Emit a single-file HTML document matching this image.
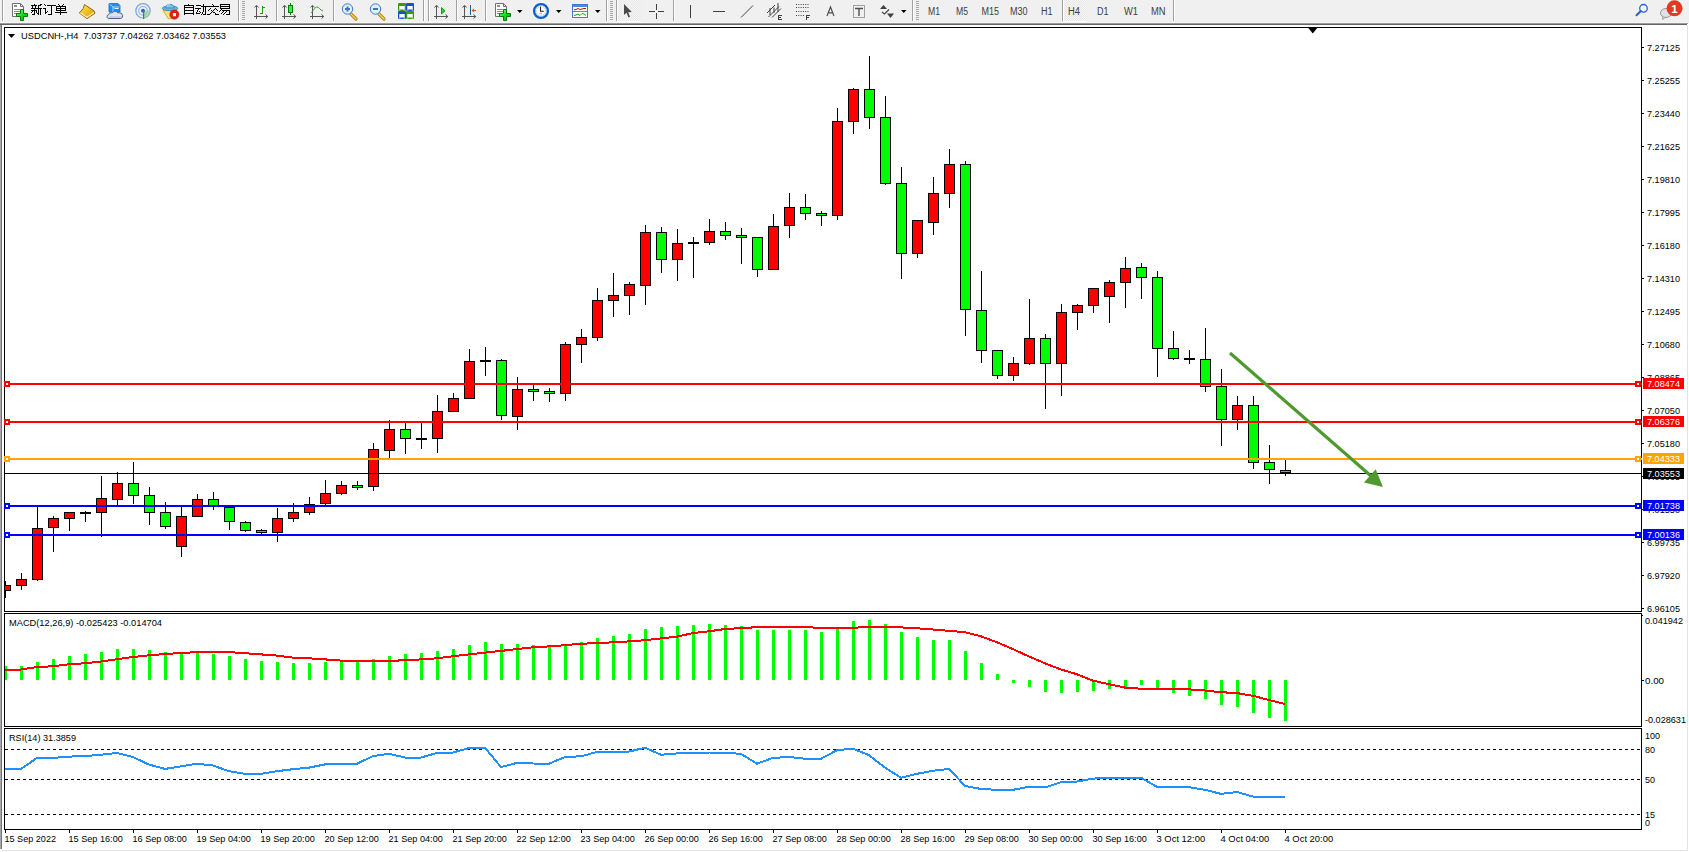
<!DOCTYPE html><html><head><meta charset="utf-8"><style>html,body{margin:0;padding:0;background:#fff;}body{width:1689px;height:852px;overflow:hidden;position:relative;}svg{position:absolute;left:0;top:0;display:block;}text{font-family:"Liberation Sans",sans-serif;}</style></head><body>
<svg width="1689" height="852" viewBox="0 0 1689 852">
<rect x="0" y="0" width="1689" height="852" fill="#ffffff"/>
<g shape-rendering="crispEdges">
<rect x="0" y="0" width="1689" height="23" fill="#f0f0f0"/>
<rect x="0" y="22" width="1688" height="1" fill="#f6f6f6"/>
<rect x="0" y="23" width="1688" height="1" fill="#9a9a9a"/>
<rect x="0" y="24" width="1687" height="1" fill="#646464"/>
<rect x="0" y="25" width="1" height="824" fill="#a8a8a8"/>
<rect x="1" y="25" width="1" height="824" fill="#747474"/>
<rect x="1687" y="25" width="1" height="826" fill="#e3e3e3"/>
<rect x="2" y="850" width="1686" height="1" fill="#e3e3e3"/>
</g>
<defs><pattern id="chk" width="2" height="2" patternUnits="userSpaceOnUse"><rect width="2" height="2" fill="#f7f7f7"/><rect width="1" height="1" fill="#e6e6e6"/><rect x="1" y="1" width="1" height="1" fill="#e6e6e6"/></pattern><linearGradient id="gplus" x1="0" y1="0" x2="1" y2="1"><stop offset="0" stop-color="#90ff90"/><stop offset="0.5" stop-color="#10e020"/><stop offset="1" stop-color="#00a000"/></linearGradient><linearGradient id="gbook" x1="0" y1="0" x2="1" y2="1"><stop offset="0" stop-color="#fff080"/><stop offset="0.5" stop-color="#f0c020"/><stop offset="1" stop-color="#d09010"/></linearGradient><radialGradient id="gclock" cx="0.5" cy="0.5" r="0.5"><stop offset="0.6" stop-color="#ffffff"/><stop offset="1" stop-color="#e0e8f0"/></radialGradient></defs>
<g shape-rendering="crispEdges">
<rect x="2" y="0" width="1" height="21" fill="#a0a0a0"/>
<rect x="3" y="0" width="1" height="21" fill="#ffffff"/>
</g>
<path d="M12.5 3.5 H20.5 L23.5 6.5 V16.5 H12.5 Z" fill="#ffffff" stroke="#707070" stroke-width="1"/>
<path d="M20.5 3.5 V6.5 H23.5" fill="none" stroke="#707070" stroke-width="1"/>
<rect x="14" y="5" width="3" height="2" fill="#909090"/>
<rect x="14" y="9" width="6" height="1" fill="#8a8a8a"/>
<rect x="14" y="11" width="6" height="1" fill="#8a8a8a"/>
<rect x="14" y="13" width="6" height="1" fill="#8a8a8a"/>
<path d="M20.5 9.5 H23.5 V13.5 H27.5 V16.5 H23.5 V20.5 H20.5 V16.5 H16.5 V13.5 H20.5 Z" fill="url(#gplus)" stroke="#008000" stroke-width="1"/>
<g fill="#000" shape-rendering="crispEdges"><rect x="34" y="4" width="1" height="1"/><rect x="31" y="5" width="6" height="1"/><rect x="32" y="6" width="1" height="1"/><rect x="35" y="6" width="1" height="1"/><rect x="32" y="7" width="1" height="1"/><rect x="35" y="7" width="1" height="1"/><rect x="31" y="8" width="7" height="1"/><rect x="31" y="10" width="6" height="1"/><rect x="34" y="9" width="1" height="6"/><rect x="33" y="14" width="1" height="1"/><rect x="32" y="14" width="1" height="1"/><rect x="32" y="11" width="1" height="1"/><rect x="31" y="12" width="1" height="1"/><rect x="36" y="11" width="1" height="1"/><rect x="36" y="12" width="1" height="1"/><rect x="37" y="13" width="1" height="1"/><rect x="41" y="4" width="1" height="1"/><rect x="40" y="4" width="1" height="1"/><rect x="38" y="5" width="3" height="1"/><rect x="38" y="6" width="1" height="9"/><rect x="39" y="8" width="3" height="1"/><rect x="40" y="9" width="1" height="6"/><rect x="44" y="4" width="1" height="1"/><rect x="45" y="5" width="1" height="1"/><rect x="43" y="8" width="3" height="1"/><rect x="45" y="9" width="1" height="5"/><rect x="46" y="12" width="1" height="1"/><rect x="47" y="11" width="1" height="1"/><rect x="47" y="5" width="9" height="1"/><rect x="51" y="6" width="1" height="9"/><rect x="48" y="14" width="3" height="1"/><rect x="58" y="4" width="1" height="1"/><rect x="59" y="5" width="1" height="1"/><rect x="63" y="4" width="1" height="1"/><rect x="62" y="5" width="1" height="1"/><rect x="56" y="6" width="1" height="5"/><rect x="65" y="6" width="1" height="5"/><rect x="56" y="6" width="10" height="1"/><rect x="56" y="8" width="10" height="1"/><rect x="56" y="10" width="10" height="1"/><rect x="60" y="7" width="1" height="8"/><rect x="55" y="12" width="12" height="1"/><rect x="188" y="4" width="1" height="1"/><rect x="184" y="5" width="1" height="10"/><rect x="193" y="5" width="1" height="10"/><rect x="184" y="5" width="10" height="1"/><rect x="184" y="7" width="10" height="1"/><rect x="184" y="10" width="10" height="1"/><rect x="184" y="13" width="10" height="1"/><rect x="196" y="5" width="5" height="1"/><rect x="195" y="8" width="6" height="1"/><rect x="198" y="9" width="1" height="1"/><rect x="197" y="10" width="1" height="1"/><rect x="197" y="11" width="1" height="1"/><rect x="196" y="12" width="1" height="1"/><rect x="196" y="13" width="4" height="1"/><rect x="199" y="11" width="1" height="1"/><rect x="200" y="12" width="1" height="1"/><rect x="201" y="6" width="6" height="1"/><rect x="203" y="4" width="1" height="8"/><rect x="202" y="12" width="1" height="1"/><rect x="202" y="13" width="1" height="1"/><rect x="201" y="14" width="1" height="1"/><rect x="205" y="6" width="1" height="8"/><rect x="203" y="14" width="3" height="1"/><rect x="212" y="4" width="1" height="1"/><rect x="213" y="5" width="1" height="1"/><rect x="207" y="6" width="12" height="1"/><rect x="210" y="8" width="1" height="1"/><rect x="209" y="9" width="1" height="1"/><rect x="208" y="10" width="1" height="1"/><rect x="215" y="8" width="1" height="1"/><rect x="216" y="9" width="1" height="1"/><rect x="217" y="10" width="1" height="1"/><rect x="214" y="9" width="1" height="1"/><rect x="213" y="10" width="1" height="1"/><rect x="212" y="11" width="1" height="1"/><rect x="211" y="12" width="1" height="1"/><rect x="210" y="13" width="1" height="1"/><rect x="207" y="14" width="3" height="1"/><rect x="211" y="10" width="1" height="1"/><rect x="212" y="11" width="1" height="1"/><rect x="213" y="12" width="1" height="1"/><rect x="215" y="13" width="1" height="1"/><rect x="215" y="14" width="4" height="1"/><rect x="214" y="12" width="1" height="1"/><rect x="220" y="4" width="1" height="5"/><rect x="229" y="4" width="1" height="5"/><rect x="220" y="4" width="10" height="1"/><rect x="220" y="6" width="10" height="1"/><rect x="220" y="8" width="10" height="1"/><rect x="221" y="9" width="1" height="1"/><rect x="220" y="10" width="1" height="1"/><rect x="219" y="11" width="1" height="1"/><rect x="222" y="10" width="8" height="1"/><rect x="229" y="11" width="1" height="3"/><rect x="226" y="14" width="4" height="1"/><rect x="223" y="11" width="1" height="1"/><rect x="222" y="12" width="1" height="1"/><rect x="221" y="13" width="1" height="1"/><rect x="226" y="11" width="1" height="1"/><rect x="225" y="12" width="1" height="1"/><rect x="224" y="13" width="1" height="1"/><rect x="223" y="14" width="1" height="1"/></g>
<path d="M84.5 4.5 L94 10.8 L95 13.2 L87 18.6 L79.3 13 L83.2 8.6 Z" fill="url(#gbook)" stroke="#9a6410" stroke-width="1"/>
<path d="M80.5 13 L87 17.3 L93.8 12.5" fill="none" stroke="#fff0b0" stroke-width="1.1"/>
<path d="M83.3 9 L90.5 14" fill="none" stroke="#e8b830" stroke-width="0.8"/>
<path d="M109 3.5 H118 L120 5.5 V12 H109 Z" fill="#1a90f0" stroke="#1070d0" stroke-width="0.8"/>
<path d="M109.5 4 L113 7 V12 M113 7 H119.5" fill="none" stroke="#c8ecff" stroke-width="0.8"/>
<rect x="114.5" y="8" width="4" height="1" fill="#ffffff"/>
<path d="M109 18.5 C106.5 18.5 106.2 15 108.8 14.6 C109 13 110.8 12.3 112.2 13 C113 11 116.8 10.6 117.8 13 C119.8 12.2 122.6 13.4 122.6 15.8 C122.6 17.8 121.3 18.5 120.2 18.5 Z" fill="#dde2ec" stroke="#4a5c8c" stroke-width="1"/>
<path d="M109 17 H121" stroke="#b8c2d8" stroke-width="1.2" fill="none"/>
<circle cx="143" cy="10.8" r="7.2" fill="none" stroke="#5a88d8" stroke-width="1.2" opacity="0.75"/>
<circle cx="143" cy="10.8" r="4.3" fill="none" stroke="#6a98e0" stroke-width="1.1" opacity="0.7"/>
<path d="M143.5 11 V18.5 A7.5 7.5 0 0 0 150.5 10.5 L143.5 11 Z" fill="#9ad090" opacity="0.7"/>
<circle cx="143" cy="10.8" r="2" fill="#2a60d0"/>
<rect x="143" y="11" width="1.2" height="8" fill="#20a020"/>
<path d="M162.8 10 L177.2 9.5 L172.8 18.6 H168.2 Z" fill="#f6e46a" stroke="#c8a020" stroke-width="0.8"/>
<ellipse cx="170" cy="8.3" rx="7.7" ry="2.4" fill="#6cb6e6" stroke="#3a8ab4" stroke-width="0.9"/>
<path d="M165.5 8 C165.3 3.2 174.5 3.2 174.3 8 Z" fill="#7cc2ee" stroke="#3a8ab4" stroke-width="0.9"/>
<path d="M167 6.5 C167.5 5 169 4.5 170 4.8" stroke="#c8ecff" stroke-width="0.9" fill="none"/>
<circle cx="174.4" cy="14.6" r="4.6" fill="#e41e0e" stroke="#b01808" stroke-width="0.6"/>
<rect x="172.9" y="13.1" width="3.1" height="3.1" fill="#ffffff"/>
<g shape-rendering="crispEdges">
<rect x="238" y="0" width="1" height="21" fill="#a0a0a0"/>
<rect x="239" y="0" width="1" height="21" fill="#ffffff"/>
<rect x="242" y="1" width="3" height="1" fill="#a8a8a8"/>
<rect x="242" y="3" width="3" height="1" fill="#a8a8a8"/>
<rect x="242" y="5" width="3" height="1" fill="#a8a8a8"/>
<rect x="242" y="7" width="3" height="1" fill="#a8a8a8"/>
<rect x="242" y="9" width="3" height="1" fill="#a8a8a8"/>
<rect x="242" y="11" width="3" height="1" fill="#a8a8a8"/>
<rect x="242" y="13" width="3" height="1" fill="#a8a8a8"/>
<rect x="242" y="15" width="3" height="1" fill="#a8a8a8"/>
<rect x="242" y="17" width="3" height="1" fill="#a8a8a8"/>
<rect x="242" y="19" width="3" height="1" fill="#a8a8a8"/>
</g>
<path d="M256.5 5.5 V19" stroke="#555" stroke-width="1" fill="none" shape-rendering="crispEdges"/>
<path d="M254 16.5 H267.5" stroke="#555" stroke-width="1" fill="none" shape-rendering="crispEdges"/>
<path d="M254.5 7.5 L256.5 5.3 L258.5 7.5" stroke="#555" stroke-width="1" fill="none"/>
<path d="M265.5 14.5 L267.8 16.5 L265.5 18.5" stroke="#555" stroke-width="1" fill="none"/>
<path d="M260 13.5 H262.5 V6 M262.5 7.5 H265" stroke="#10a010" stroke-width="1.2" fill="none" shape-rendering="crispEdges"/>
<g shape-rendering="crispEdges">
<rect x="276" y="0" width="1" height="21" fill="#a0a0a0"/>
<rect x="277" y="0" width="1" height="21" fill="#ffffff"/>
<rect x="278" y="0" width="23" height="21" fill="url(#chk)"/>
<rect x="278" y="21" width="23" height="1" fill="#ffffff"/>
</g>
<path d="M284.5 5.5 V19" stroke="#555" stroke-width="1" fill="none" shape-rendering="crispEdges"/>
<path d="M282 16.5 H295.5" stroke="#555" stroke-width="1" fill="none" shape-rendering="crispEdges"/>
<path d="M282.5 7.5 L284.5 5.3 L286.5 7.5" stroke="#555" stroke-width="1" fill="none"/>
<path d="M293.5 14.5 L295.8 16.5 L293.5 18.5" stroke="#555" stroke-width="1" fill="none"/>
<rect x="290" y="3" width="1" height="12" fill="#008000" shape-rendering="crispEdges"/>
<rect x="288.5" y="5.5" width="4" height="7" fill="#40e060" stroke="#008000" stroke-width="1" shape-rendering="crispEdges"/>
<path d="M312.5 5.5 V19" stroke="#555" stroke-width="1" fill="none" shape-rendering="crispEdges"/>
<path d="M310 16.5 H323.5" stroke="#555" stroke-width="1" fill="none" shape-rendering="crispEdges"/>
<path d="M310.5 7.5 L312.5 5.3 L314.5 7.5" stroke="#555" stroke-width="1" fill="none"/>
<path d="M321.5 14.5 L323.8 16.5 L321.5 18.5" stroke="#555" stroke-width="1" fill="none"/>
<path d="M311 13 C313 11 315 7 317 7 C319 7 320 10 323 11" stroke="#30a030" stroke-width="1" fill="none"/>
<g shape-rendering="crispEdges">
<rect x="333" y="0" width="1" height="21" fill="#a0a0a0"/>
<rect x="334" y="0" width="1" height="21" fill="#ffffff"/>
</g>
<path d="M351 14 L356 19" stroke="#b08010" stroke-width="3.2" stroke-linecap="round" fill="none"/>
<path d="M351 14 L356 19" stroke="#f0d050" stroke-width="1.6" stroke-linecap="round" fill="none"/>
<circle cx="347.5" cy="9" r="5.2" fill="#dff0fa" stroke="#3a7ad0" stroke-width="1"/>
<rect x="345" y="8" width="5" height="2" fill="#3a7ab0"/>
<rect x="346.5" y="6.5" width="2" height="5" fill="#3a7ab0"/>
<path d="M379 14 L384 19" stroke="#b08010" stroke-width="3.2" stroke-linecap="round" fill="none"/>
<path d="M379 14 L384 19" stroke="#f0d050" stroke-width="1.6" stroke-linecap="round" fill="none"/>
<circle cx="375.5" cy="9" r="5.2" fill="#dff0fa" stroke="#3a7ad0" stroke-width="1"/>
<rect x="373" y="8" width="5" height="2" fill="#3a7ab0"/>
<rect x="398" y="3" width="8" height="8" rx="1" fill="#3a9a10"/>
<rect x="399.3" y="6" width="5.4" height="3.5" fill="#ffffff"/>
<rect x="399.3" y="9.5" width="1" height="1" fill="#ffffff"/><rect x="403.7" y="9.5" width="1" height="1" fill="#ffffff"/>
<rect x="406" y="3" width="8" height="8" rx="1" fill="#1a50d0"/>
<rect x="407.3" y="6" width="5.4" height="3.5" fill="#ffffff"/>
<rect x="407.3" y="9.5" width="1" height="1" fill="#ffffff"/><rect x="411.7" y="9.5" width="1" height="1" fill="#ffffff"/>
<rect x="398" y="11" width="8" height="8" rx="1" fill="#1a50d0"/>
<rect x="399.3" y="14" width="5.4" height="3.5" fill="#ffffff"/>
<rect x="399.3" y="17.5" width="1" height="1" fill="#ffffff"/><rect x="403.7" y="17.5" width="1" height="1" fill="#ffffff"/>
<rect x="406" y="11" width="8" height="8" rx="1" fill="#3a9a10"/>
<rect x="407.3" y="14" width="5.4" height="3.5" fill="#ffffff"/>
<rect x="407.3" y="17.5" width="1" height="1" fill="#ffffff"/><rect x="411.7" y="17.5" width="1" height="1" fill="#ffffff"/>
<g shape-rendering="crispEdges">
<rect x="423" y="0" width="1" height="21" fill="#a0a0a0"/>
<rect x="424" y="0" width="1" height="21" fill="#ffffff"/>
<rect x="428" y="0" width="1" height="21" fill="#a0a0a0"/>
<rect x="429" y="0" width="1" height="21" fill="#ffffff"/>
<rect x="430" y="0" width="23" height="21" fill="url(#chk)"/>
<rect x="430" y="21" width="23" height="1" fill="#ffffff"/>
<rect x="456" y="0" width="1" height="21" fill="#a0a0a0"/>
<rect x="457" y="0" width="1" height="21" fill="#ffffff"/>
<rect x="458" y="0" width="24" height="21" fill="url(#chk)"/>
<rect x="458" y="21" width="24" height="1" fill="#ffffff"/>
<rect x="485" y="0" width="1" height="21" fill="#a0a0a0"/>
<rect x="486" y="0" width="1" height="21" fill="#ffffff"/>
</g>
<path d="M436.5 5.5 V19" stroke="#555" stroke-width="1" fill="none" shape-rendering="crispEdges"/>
<path d="M434 16.5 H447.5" stroke="#555" stroke-width="1" fill="none" shape-rendering="crispEdges"/>
<path d="M434.5 7.5 L436.5 5.3 L438.5 7.5" stroke="#555" stroke-width="1" fill="none"/>
<path d="M445.5 14.5 L447.8 16.5 L445.5 18.5" stroke="#555" stroke-width="1" fill="none"/>
<path d="M441.5 7.5 L445 10.8 L441.5 14 Z" fill="#40c040" stroke="#10a010" stroke-width="1"/>
<path d="M464.5 5.5 V19" stroke="#555" stroke-width="1" fill="none" shape-rendering="crispEdges"/>
<path d="M462 16.5 H475.5" stroke="#555" stroke-width="1" fill="none" shape-rendering="crispEdges"/>
<path d="M462.5 7.5 L464.5 5.3 L466.5 7.5" stroke="#555" stroke-width="1" fill="none"/>
<path d="M473.5 14.5 L475.8 16.5 L473.5 18.5" stroke="#555" stroke-width="1" fill="none"/>
<rect x="470" y="5" width="1" height="10" fill="#1060a0"/>
<path d="M471.5 10.5 L474 8.5 V10 H476 V11 H474 V12.5 Z" fill="#e05010"/>
<path d="M495.5 3.5 H503.5 L506.5 6.5 V16.5 H495.5 Z" fill="#ffffff" stroke="#707070" stroke-width="1"/>
<path d="M503.5 3.5 V6.5 H506.5" fill="none" stroke="#707070" stroke-width="1"/>
<rect x="497" y="5" width="3" height="2" fill="#909090"/>
<rect x="497" y="9" width="6" height="1" fill="#8a8a8a"/>
<rect x="497" y="11" width="6" height="1" fill="#8a8a8a"/>
<rect x="497" y="13" width="6" height="1" fill="#8a8a8a"/>
<path d="M503.5 9.5 H506.5 V13.5 H510.5 V16.5 H506.5 V20.5 H503.5 V16.5 H499.5 V13.5 H503.5 Z" fill="url(#gplus)" stroke="#008000" stroke-width="1"/>
<path d="M517 10 H522.5 L519.75 13 Z" fill="#000"/>
<circle cx="541" cy="11" r="6.9" fill="#ffffff" stroke="#0a5cc8" stroke-width="2.3"/>
<circle cx="541" cy="11" r="5.6" fill="none" stroke="#7ab8f0" stroke-width="0.6"/>
<rect x="540.60" y="6.00" width="0.8" height="0.8" fill="#909090"/>
<rect x="542.90" y="6.62" width="0.8" height="0.8" fill="#909090"/>
<rect x="544.58" y="8.30" width="0.8" height="0.8" fill="#909090"/>
<rect x="545.20" y="10.60" width="0.8" height="0.8" fill="#909090"/>
<rect x="544.58" y="12.90" width="0.8" height="0.8" fill="#909090"/>
<rect x="542.90" y="14.58" width="0.8" height="0.8" fill="#909090"/>
<rect x="540.60" y="15.20" width="0.8" height="0.8" fill="#909090"/>
<rect x="538.30" y="14.58" width="0.8" height="0.8" fill="#909090"/>
<rect x="536.62" y="12.90" width="0.8" height="0.8" fill="#909090"/>
<rect x="536.00" y="10.60" width="0.8" height="0.8" fill="#909090"/>
<rect x="536.62" y="8.30" width="0.8" height="0.8" fill="#909090"/>
<rect x="538.30" y="6.62" width="0.8" height="0.8" fill="#909090"/>
<path d="M540.5 6.8 V11.3 H543.8" stroke="#202020" stroke-width="1.1" fill="none"/>
<rect x="539.5" y="13.3" width="2.5" height="0.8" fill="#60a0e0"/>
<path d="M556 10 H561.5 L558.75 13 Z" fill="#000"/>
<rect x="572.5" y="4.5" width="15" height="13" fill="#ffffff" stroke="#3a7ad0" stroke-width="1"/>
<rect x="573" y="5" width="14" height="2" fill="#4a8ae0"/>
<rect x="573" y="11" width="14" height="1" fill="#4a8ae0"/>
<path d="M574 10 L576 9.5 L578 8.5 L580 9.5 L582 9 L584 8.5 L586 8.5" stroke="#a02000" stroke-width="1" fill="none"/>
<path d="M574 15.5 L576 15 L578 14 L580 15.5 L582 13.5 L584 14 L586 15.5" stroke="#10a010" stroke-width="1" fill="none"/>
<path d="M595 10 H600.5 L597.75 13 Z" fill="#000"/>
<g shape-rendering="crispEdges">
<rect x="606" y="0" width="1" height="21" fill="#a0a0a0"/>
<rect x="607" y="0" width="1" height="21" fill="#ffffff"/>
<rect x="610" y="1" width="3" height="1" fill="#a8a8a8"/>
<rect x="610" y="3" width="3" height="1" fill="#a8a8a8"/>
<rect x="610" y="5" width="3" height="1" fill="#a8a8a8"/>
<rect x="610" y="7" width="3" height="1" fill="#a8a8a8"/>
<rect x="610" y="9" width="3" height="1" fill="#a8a8a8"/>
<rect x="610" y="11" width="3" height="1" fill="#a8a8a8"/>
<rect x="610" y="13" width="3" height="1" fill="#a8a8a8"/>
<rect x="610" y="15" width="3" height="1" fill="#a8a8a8"/>
<rect x="610" y="17" width="3" height="1" fill="#a8a8a8"/>
<rect x="610" y="19" width="3" height="1" fill="#a8a8a8"/>
<rect x="616" y="0" width="1" height="21" fill="#a0a0a0"/>
<rect x="617" y="0" width="1" height="21" fill="#ffffff"/>
<rect x="618" y="0" width="23" height="21" fill="url(#chk)"/>
<rect x="618" y="21" width="23" height="1" fill="#ffffff"/>
</g>
<path d="M624 4 V15 L626.5 12.8 L628.5 17.5 L630 16.8 L628.2 12.2 L631.8 12 Z" fill="#4a4a4a"/>
<path d="M656.5 4 V10 M656.5 13 V19 M649 11.5 H655 M658 11.5 H664" stroke="#404040" stroke-width="1.1" fill="none" shape-rendering="crispEdges"/>
<g shape-rendering="crispEdges">
<rect x="673" y="0" width="1" height="21" fill="#a0a0a0"/>
<rect x="674" y="0" width="1" height="21" fill="#ffffff"/>
</g>
<path d="M690.5 5 V18" stroke="#404040" stroke-width="1.1" fill="none" shape-rendering="crispEdges"/>
<path d="M713 11.5 H725" stroke="#404040" stroke-width="1.1" fill="none" shape-rendering="crispEdges"/>
<path d="M741 17.5 L753 5.5" stroke="#404040" stroke-width="1" fill="none"/>
<path d="M767 13 L775 5 M768.5 17 L779 6.5 M772 17.5 L781 8.5" stroke="#404040" stroke-width="1" fill="none"/>
<path d="M770 8 V15 M774 7.5 V13 M778 3 V12" stroke="#404040" stroke-width="1" fill="none"/>
<path d="M782 15 H778.5 V19.5 H782 M778.5 17.2 H781" stroke="#404040" stroke-width="1" fill="none" shape-rendering="crispEdges"/>
<path d="M796 4.5 H809 M796 7.5 H809 M796 11.5 H809 M796 15.5 H804" stroke="#404040" stroke-width="1" stroke-dasharray="1,1.3" fill="none"/>
<path d="M810 15.5 H806.5 V20 M806.5 17.5 H809" stroke="#404040" stroke-width="1" fill="none" shape-rendering="crispEdges"/>
<path d="M827 16 L830.5 7 L834 16 M828.3 12.8 H832.7" stroke="#505050" stroke-width="1.2" fill="none"/>
<rect x="853.5" y="5.5" width="11" height="12" fill="none" stroke="#505050" stroke-width="1" stroke-dasharray="1,1"/>
<path d="M855 8.5 H863 M859 8.5 V16" stroke="#505050" stroke-width="1.4" fill="none"/>
<path d="M880 9 L883.5 5 L887 9 Z" fill="#404040"/>
<path d="M882 12 L884.5 14 L889 9.5" stroke="#404040" stroke-width="1.1" fill="none"/>
<path d="M887 13.5 H894 L890.5 18 Z" fill="#404040"/>
<path d="M901 10 H906.5 L903.75 13 Z" fill="#000"/>
<g shape-rendering="crispEdges">
<rect x="912" y="0" width="1" height="21" fill="#a0a0a0"/>
<rect x="913" y="0" width="1" height="21" fill="#ffffff"/>
<rect x="916" y="1" width="3" height="1" fill="#a8a8a8"/>
<rect x="916" y="3" width="3" height="1" fill="#a8a8a8"/>
<rect x="916" y="5" width="3" height="1" fill="#a8a8a8"/>
<rect x="916" y="7" width="3" height="1" fill="#a8a8a8"/>
<rect x="916" y="9" width="3" height="1" fill="#a8a8a8"/>
<rect x="916" y="11" width="3" height="1" fill="#a8a8a8"/>
<rect x="916" y="13" width="3" height="1" fill="#a8a8a8"/>
<rect x="916" y="15" width="3" height="1" fill="#a8a8a8"/>
<rect x="916" y="17" width="3" height="1" fill="#a8a8a8"/>
<rect x="916" y="19" width="3" height="1" fill="#a8a8a8"/>
<rect x="1062" y="0" width="1" height="21" fill="#a0a0a0"/>
<rect x="1063" y="0" width="1" height="21" fill="#ffffff"/>
<rect x="1064" y="0" width="23" height="21" fill="url(#chk)"/>
<rect x="1064" y="21" width="23" height="1" fill="#ffffff"/>
<rect x="1173" y="0" width="1" height="21" fill="#a0a0a0"/>
<rect x="1174" y="0" width="1" height="21" fill="#ffffff"/>
</g>
<text x="928" y="15.4" font-size="10" fill="#404040" textLength="12" lengthAdjust="spacingAndGlyphs">M1</text>
<text x="956" y="15.4" font-size="10" fill="#404040" textLength="12" lengthAdjust="spacingAndGlyphs">M5</text>
<text x="981.5" y="15.4" font-size="10" fill="#404040" textLength="17.5" lengthAdjust="spacingAndGlyphs">M15</text>
<text x="1010" y="15.4" font-size="10" fill="#404040" textLength="17.5" lengthAdjust="spacingAndGlyphs">M30</text>
<text x="1041" y="15.4" font-size="10" fill="#404040" textLength="11.5" lengthAdjust="spacingAndGlyphs">H1</text>
<text x="1068" y="15.4" font-size="10" fill="#404040" textLength="12" lengthAdjust="spacingAndGlyphs">H4</text>
<text x="1097" y="15.4" font-size="10" fill="#404040" textLength="11.5" lengthAdjust="spacingAndGlyphs">D1</text>
<text x="1124" y="15.4" font-size="10" fill="#404040" textLength="14" lengthAdjust="spacingAndGlyphs">W1</text>
<text x="1151" y="15.4" font-size="10" fill="#404040" textLength="14.5" lengthAdjust="spacingAndGlyphs">MN</text>
<circle cx="1643.5" cy="8.3" r="3.8" fill="#f4f4ff" stroke="#2a60d0" stroke-width="1.3"/>
<path d="M1640.8 11 L1636.5 15.3" stroke="#2a60d0" stroke-width="2" stroke-linecap="round" fill="none"/>
<ellipse cx="1666" cy="13" rx="5.5" ry="4.5" fill="#e0e0ea" stroke="#909090" stroke-width="0.9"/>
<path d="M1663 16.5 L1662.5 19.5 L1666 17" fill="#d0d0d8" stroke="#909090" stroke-width="0.8"/>
<circle cx="1674.5" cy="8.3" r="8" fill="#e03a20"/>
<text x="1674.5" y="12.5" font-size="11.5" font-family="Liberation Serif, serif" font-weight="bold" fill="#ffffff" text-anchor="middle">1</text>
<g shape-rendering="crispEdges" fill="none" stroke="#000" stroke-width="1">
<path d="M4.5 611.5 V27.5 H1641.5 V611.5 Z"/>
<path d="M4.5 726.5 V613.5 H1641.5 V726.5 Z"/>
<path d="M4.5 829.5 V728.5 H1641.5 V829.5 Z"/>
</g>
<defs><clipPath id="cm"><rect x="5" y="28" width="1637" height="583"/></clipPath><clipPath id="cd"><rect x="5" y="614" width="1636" height="112"/></clipPath><clipPath id="cr"><rect x="5" y="729" width="1636" height="100"/></clipPath></defs>
<g shape-rendering="crispEdges" fill="#000">
<rect x="1642" y="47" width="2" height="1"/>
<rect x="1642" y="80" width="2" height="1"/>
<rect x="1642" y="113" width="2" height="1"/>
<rect x="1642" y="146" width="2" height="1"/>
<rect x="1642" y="179" width="2" height="1"/>
<rect x="1642" y="212" width="2" height="1"/>
<rect x="1642" y="245" width="2" height="1"/>
<rect x="1642" y="278" width="2" height="1"/>
<rect x="1642" y="311" width="2" height="1"/>
<rect x="1642" y="344" width="2" height="1"/>
<rect x="1642" y="377" width="2" height="1"/>
<rect x="1642" y="410" width="2" height="1"/>
<rect x="1642" y="443" width="2" height="1"/>
<rect x="1642" y="476" width="2" height="1"/>
<rect x="1642" y="509" width="2" height="1"/>
<rect x="1642" y="542" width="2" height="1"/>
<rect x="1642" y="575" width="2" height="1"/>
<rect x="1642" y="608" width="2" height="1"/>
</g>
<text x="1647" y="51" font-size="9.8" fill="#000" text-anchor="start" textLength="33" lengthAdjust="spacingAndGlyphs">7.27125</text>
<text x="1647" y="84" font-size="9.8" fill="#000" text-anchor="start" textLength="33" lengthAdjust="spacingAndGlyphs">7.25255</text>
<text x="1647" y="117" font-size="9.8" fill="#000" text-anchor="start" textLength="33" lengthAdjust="spacingAndGlyphs">7.23440</text>
<text x="1647" y="150" font-size="9.8" fill="#000" text-anchor="start" textLength="33" lengthAdjust="spacingAndGlyphs">7.21625</text>
<text x="1647" y="183" font-size="9.8" fill="#000" text-anchor="start" textLength="33" lengthAdjust="spacingAndGlyphs">7.19810</text>
<text x="1647" y="216" font-size="9.8" fill="#000" text-anchor="start" textLength="33" lengthAdjust="spacingAndGlyphs">7.17995</text>
<text x="1647" y="249" font-size="9.8" fill="#000" text-anchor="start" textLength="33" lengthAdjust="spacingAndGlyphs">7.16180</text>
<text x="1647" y="282" font-size="9.8" fill="#000" text-anchor="start" textLength="33" lengthAdjust="spacingAndGlyphs">7.14310</text>
<text x="1647" y="315" font-size="9.8" fill="#000" text-anchor="start" textLength="33" lengthAdjust="spacingAndGlyphs">7.12495</text>
<text x="1647" y="348" font-size="9.8" fill="#000" text-anchor="start" textLength="33" lengthAdjust="spacingAndGlyphs">7.10680</text>
<text x="1647" y="381" font-size="9.8" fill="#000" text-anchor="start" textLength="33" lengthAdjust="spacingAndGlyphs">7.08865</text>
<text x="1647" y="414" font-size="9.8" fill="#000" text-anchor="start" textLength="33" lengthAdjust="spacingAndGlyphs">7.07050</text>
<text x="1647" y="447" font-size="9.8" fill="#000" text-anchor="start" textLength="33" lengthAdjust="spacingAndGlyphs">7.05180</text>
<text x="1647" y="480" font-size="9.8" fill="#000" text-anchor="start" textLength="33" lengthAdjust="spacingAndGlyphs">7.03365</text>
<text x="1647" y="513" font-size="9.8" fill="#000" text-anchor="start" textLength="33" lengthAdjust="spacingAndGlyphs">7.01550</text>
<text x="1647" y="546" font-size="9.8" fill="#000" text-anchor="start" textLength="33" lengthAdjust="spacingAndGlyphs">6.99735</text>
<text x="1647" y="579" font-size="9.8" fill="#000" text-anchor="start" textLength="33" lengthAdjust="spacingAndGlyphs">6.97920</text>
<text x="1647" y="612" font-size="9.8" fill="#000" text-anchor="start" textLength="33" lengthAdjust="spacingAndGlyphs">6.96105</text>
<g shape-rendering="crispEdges" clip-path="url(#cm)">
<rect x="5" y="581" width="1" height="17" fill="#000"/>
<rect x="0" y="585" width="11" height="6" fill="#000"/>
<rect x="1" y="586" width="9" height="4" fill="#ff0000"/>
<rect x="21" y="573" width="1" height="17" fill="#000"/>
<rect x="16" y="579" width="11" height="7" fill="#000"/>
<rect x="17" y="580" width="9" height="5" fill="#ff0000"/>
<rect x="37" y="506" width="1" height="75" fill="#000"/>
<rect x="32" y="528" width="11" height="52" fill="#000"/>
<rect x="33" y="529" width="9" height="50" fill="#ff0000"/>
<rect x="53" y="516" width="1" height="36" fill="#000"/>
<rect x="48" y="518" width="11" height="10" fill="#000"/>
<rect x="49" y="519" width="9" height="8" fill="#ff0000"/>
<rect x="69" y="512" width="1" height="19" fill="#000"/>
<rect x="64" y="512" width="11" height="7" fill="#000"/>
<rect x="65" y="513" width="9" height="5" fill="#ff0000"/>
<rect x="85" y="511" width="1" height="11" fill="#000"/>
<rect x="80" y="512" width="11" height="2" fill="#000"/>
<rect x="101" y="476" width="1" height="61" fill="#000"/>
<rect x="96" y="498" width="11" height="15" fill="#000"/>
<rect x="97" y="499" width="9" height="13" fill="#ff0000"/>
<rect x="117" y="472" width="1" height="33" fill="#000"/>
<rect x="112" y="483" width="11" height="17" fill="#000"/>
<rect x="113" y="484" width="9" height="15" fill="#ff0000"/>
<rect x="133" y="462" width="1" height="42" fill="#000"/>
<rect x="128" y="483" width="11" height="13" fill="#000"/>
<rect x="129" y="484" width="9" height="11" fill="#00ff00"/>
<rect x="149" y="487" width="1" height="38" fill="#000"/>
<rect x="144" y="495" width="11" height="18" fill="#000"/>
<rect x="145" y="496" width="9" height="16" fill="#00ff00"/>
<rect x="165" y="502" width="1" height="27" fill="#000"/>
<rect x="160" y="512" width="11" height="15" fill="#000"/>
<rect x="161" y="513" width="9" height="13" fill="#00ff00"/>
<rect x="181" y="506" width="1" height="51" fill="#000"/>
<rect x="176" y="516" width="11" height="31" fill="#000"/>
<rect x="177" y="517" width="9" height="29" fill="#ff0000"/>
<rect x="197" y="494" width="1" height="23" fill="#000"/>
<rect x="192" y="499" width="11" height="18" fill="#000"/>
<rect x="193" y="500" width="9" height="16" fill="#ff0000"/>
<rect x="213" y="492" width="1" height="18" fill="#000"/>
<rect x="208" y="499" width="11" height="7" fill="#000"/>
<rect x="209" y="500" width="9" height="5" fill="#00ff00"/>
<rect x="229" y="507" width="1" height="23" fill="#000"/>
<rect x="224" y="507" width="11" height="15" fill="#000"/>
<rect x="225" y="508" width="9" height="13" fill="#00ff00"/>
<rect x="245" y="521" width="1" height="11" fill="#000"/>
<rect x="240" y="522" width="11" height="9" fill="#000"/>
<rect x="241" y="523" width="9" height="7" fill="#00ff00"/>
<rect x="261" y="529" width="1" height="5" fill="#000"/>
<rect x="256" y="530" width="11" height="3" fill="#000"/>
<rect x="257" y="531" width="9" height="1" fill="#00ff00"/>
<rect x="277" y="508" width="1" height="34" fill="#000"/>
<rect x="272" y="518" width="11" height="15" fill="#000"/>
<rect x="273" y="519" width="9" height="13" fill="#ff0000"/>
<rect x="293" y="503" width="1" height="19" fill="#000"/>
<rect x="288" y="512" width="11" height="7" fill="#000"/>
<rect x="289" y="513" width="9" height="5" fill="#ff0000"/>
<rect x="309" y="497" width="1" height="18" fill="#000"/>
<rect x="304" y="504" width="11" height="9" fill="#000"/>
<rect x="305" y="505" width="9" height="7" fill="#ff0000"/>
<rect x="325" y="480" width="1" height="25" fill="#000"/>
<rect x="320" y="493" width="11" height="11" fill="#000"/>
<rect x="321" y="494" width="9" height="9" fill="#ff0000"/>
<rect x="341" y="481" width="1" height="14" fill="#000"/>
<rect x="336" y="485" width="11" height="9" fill="#000"/>
<rect x="337" y="486" width="9" height="7" fill="#ff0000"/>
<rect x="357" y="481" width="1" height="9" fill="#000"/>
<rect x="352" y="485" width="11" height="3" fill="#000"/>
<rect x="353" y="486" width="9" height="1" fill="#00ff00"/>
<rect x="373" y="443" width="1" height="48" fill="#000"/>
<rect x="368" y="449" width="11" height="38" fill="#000"/>
<rect x="369" y="450" width="9" height="36" fill="#ff0000"/>
<rect x="389" y="420" width="1" height="38" fill="#000"/>
<rect x="384" y="429" width="11" height="22" fill="#000"/>
<rect x="385" y="430" width="9" height="20" fill="#ff0000"/>
<rect x="405" y="423" width="1" height="31" fill="#000"/>
<rect x="400" y="429" width="11" height="10" fill="#000"/>
<rect x="401" y="430" width="9" height="8" fill="#00ff00"/>
<rect x="421" y="423" width="1" height="26" fill="#000"/>
<rect x="416" y="438" width="11" height="2" fill="#000"/>
<rect x="437" y="395" width="1" height="58" fill="#000"/>
<rect x="432" y="411" width="11" height="28" fill="#000"/>
<rect x="433" y="412" width="9" height="26" fill="#ff0000"/>
<rect x="453" y="393" width="1" height="19" fill="#000"/>
<rect x="448" y="398" width="11" height="14" fill="#000"/>
<rect x="449" y="399" width="9" height="12" fill="#ff0000"/>
<rect x="469" y="349" width="1" height="50" fill="#000"/>
<rect x="464" y="361" width="11" height="38" fill="#000"/>
<rect x="465" y="362" width="9" height="36" fill="#ff0000"/>
<rect x="485" y="347" width="1" height="29" fill="#000"/>
<rect x="480" y="360" width="11" height="2" fill="#000"/>
<rect x="501" y="359" width="1" height="61" fill="#000"/>
<rect x="496" y="360" width="11" height="56" fill="#000"/>
<rect x="497" y="361" width="9" height="54" fill="#00ff00"/>
<rect x="517" y="377" width="1" height="53" fill="#000"/>
<rect x="512" y="389" width="11" height="28" fill="#000"/>
<rect x="513" y="390" width="9" height="26" fill="#ff0000"/>
<rect x="533" y="385" width="1" height="16" fill="#000"/>
<rect x="528" y="389" width="11" height="3" fill="#000"/>
<rect x="529" y="390" width="9" height="1" fill="#00ff00"/>
<rect x="549" y="388" width="1" height="14" fill="#000"/>
<rect x="544" y="391" width="11" height="3" fill="#000"/>
<rect x="545" y="392" width="9" height="1" fill="#00ff00"/>
<rect x="565" y="342" width="1" height="59" fill="#000"/>
<rect x="560" y="344" width="11" height="50" fill="#000"/>
<rect x="561" y="345" width="9" height="48" fill="#ff0000"/>
<rect x="581" y="329" width="1" height="34" fill="#000"/>
<rect x="576" y="337" width="11" height="8" fill="#000"/>
<rect x="577" y="338" width="9" height="6" fill="#ff0000"/>
<rect x="597" y="288" width="1" height="53" fill="#000"/>
<rect x="592" y="300" width="11" height="38" fill="#000"/>
<rect x="593" y="301" width="9" height="36" fill="#ff0000"/>
<rect x="613" y="273" width="1" height="44" fill="#000"/>
<rect x="608" y="295" width="11" height="6" fill="#000"/>
<rect x="609" y="296" width="9" height="4" fill="#ff0000"/>
<rect x="629" y="282" width="1" height="33" fill="#000"/>
<rect x="624" y="284" width="11" height="12" fill="#000"/>
<rect x="625" y="285" width="9" height="10" fill="#ff0000"/>
<rect x="645" y="225" width="1" height="80" fill="#000"/>
<rect x="640" y="232" width="11" height="54" fill="#000"/>
<rect x="641" y="233" width="9" height="52" fill="#ff0000"/>
<rect x="661" y="227" width="1" height="46" fill="#000"/>
<rect x="656" y="232" width="11" height="28" fill="#000"/>
<rect x="657" y="233" width="9" height="26" fill="#00ff00"/>
<rect x="677" y="229" width="1" height="52" fill="#000"/>
<rect x="672" y="243" width="11" height="17" fill="#000"/>
<rect x="673" y="244" width="9" height="15" fill="#ff0000"/>
<rect x="693" y="237" width="1" height="41" fill="#000"/>
<rect x="688" y="242" width="11" height="2" fill="#000"/>
<rect x="709" y="219" width="1" height="26" fill="#000"/>
<rect x="704" y="231" width="11" height="12" fill="#000"/>
<rect x="705" y="232" width="9" height="10" fill="#ff0000"/>
<rect x="725" y="222" width="1" height="18" fill="#000"/>
<rect x="720" y="231" width="11" height="5" fill="#000"/>
<rect x="721" y="232" width="9" height="3" fill="#00ff00"/>
<rect x="741" y="228" width="1" height="36" fill="#000"/>
<rect x="736" y="235" width="11" height="3" fill="#000"/>
<rect x="737" y="236" width="9" height="1" fill="#00ff00"/>
<rect x="757" y="237" width="1" height="40" fill="#000"/>
<rect x="752" y="237" width="11" height="33" fill="#000"/>
<rect x="753" y="238" width="9" height="31" fill="#00ff00"/>
<rect x="773" y="214" width="1" height="56" fill="#000"/>
<rect x="768" y="226" width="11" height="44" fill="#000"/>
<rect x="769" y="227" width="9" height="42" fill="#ff0000"/>
<rect x="789" y="193" width="1" height="45" fill="#000"/>
<rect x="784" y="207" width="11" height="19" fill="#000"/>
<rect x="785" y="208" width="9" height="17" fill="#ff0000"/>
<rect x="805" y="194" width="1" height="26" fill="#000"/>
<rect x="800" y="207" width="11" height="7" fill="#000"/>
<rect x="801" y="208" width="9" height="5" fill="#00ff00"/>
<rect x="821" y="211" width="1" height="15" fill="#000"/>
<rect x="816" y="213" width="11" height="3" fill="#000"/>
<rect x="817" y="214" width="9" height="1" fill="#00ff00"/>
<rect x="837" y="108" width="1" height="112" fill="#000"/>
<rect x="832" y="121" width="11" height="95" fill="#000"/>
<rect x="833" y="122" width="9" height="93" fill="#ff0000"/>
<rect x="853" y="88" width="1" height="46" fill="#000"/>
<rect x="848" y="89" width="11" height="33" fill="#000"/>
<rect x="849" y="90" width="9" height="31" fill="#ff0000"/>
<rect x="869" y="56" width="1" height="73" fill="#000"/>
<rect x="864" y="89" width="11" height="29" fill="#000"/>
<rect x="865" y="90" width="9" height="27" fill="#00ff00"/>
<rect x="885" y="96" width="1" height="89" fill="#000"/>
<rect x="880" y="117" width="11" height="67" fill="#000"/>
<rect x="881" y="118" width="9" height="65" fill="#00ff00"/>
<rect x="901" y="167" width="1" height="112" fill="#000"/>
<rect x="896" y="183" width="11" height="71" fill="#000"/>
<rect x="897" y="184" width="9" height="69" fill="#00ff00"/>
<rect x="917" y="220" width="1" height="38" fill="#000"/>
<rect x="912" y="220" width="11" height="34" fill="#000"/>
<rect x="913" y="221" width="9" height="32" fill="#ff0000"/>
<rect x="933" y="177" width="1" height="58" fill="#000"/>
<rect x="928" y="193" width="11" height="30" fill="#000"/>
<rect x="929" y="194" width="9" height="28" fill="#ff0000"/>
<rect x="949" y="149" width="1" height="59" fill="#000"/>
<rect x="944" y="164" width="11" height="30" fill="#000"/>
<rect x="945" y="165" width="9" height="28" fill="#ff0000"/>
<rect x="965" y="161" width="1" height="175" fill="#000"/>
<rect x="960" y="164" width="11" height="146" fill="#000"/>
<rect x="961" y="165" width="9" height="144" fill="#00ff00"/>
<rect x="981" y="271" width="1" height="92" fill="#000"/>
<rect x="976" y="310" width="11" height="41" fill="#000"/>
<rect x="977" y="311" width="9" height="39" fill="#00ff00"/>
<rect x="997" y="350" width="1" height="29" fill="#000"/>
<rect x="992" y="350" width="11" height="26" fill="#000"/>
<rect x="993" y="351" width="9" height="24" fill="#00ff00"/>
<rect x="1013" y="357" width="1" height="24" fill="#000"/>
<rect x="1008" y="363" width="11" height="13" fill="#000"/>
<rect x="1009" y="364" width="9" height="11" fill="#ff0000"/>
<rect x="1029" y="299" width="1" height="66" fill="#000"/>
<rect x="1024" y="338" width="11" height="26" fill="#000"/>
<rect x="1025" y="339" width="9" height="24" fill="#ff0000"/>
<rect x="1045" y="334" width="1" height="75" fill="#000"/>
<rect x="1040" y="338" width="11" height="26" fill="#000"/>
<rect x="1041" y="339" width="9" height="24" fill="#00ff00"/>
<rect x="1061" y="304" width="1" height="92" fill="#000"/>
<rect x="1056" y="312" width="11" height="52" fill="#000"/>
<rect x="1057" y="313" width="9" height="50" fill="#ff0000"/>
<rect x="1077" y="304" width="1" height="26" fill="#000"/>
<rect x="1072" y="305" width="11" height="8" fill="#000"/>
<rect x="1073" y="306" width="9" height="6" fill="#ff0000"/>
<rect x="1093" y="288" width="1" height="25" fill="#000"/>
<rect x="1088" y="288" width="11" height="18" fill="#000"/>
<rect x="1089" y="289" width="9" height="16" fill="#ff0000"/>
<rect x="1109" y="280" width="1" height="43" fill="#000"/>
<rect x="1104" y="282" width="11" height="15" fill="#000"/>
<rect x="1105" y="283" width="9" height="13" fill="#ff0000"/>
<rect x="1125" y="257" width="1" height="51" fill="#000"/>
<rect x="1120" y="268" width="11" height="15" fill="#000"/>
<rect x="1121" y="269" width="9" height="13" fill="#ff0000"/>
<rect x="1141" y="263" width="1" height="36" fill="#000"/>
<rect x="1136" y="267" width="11" height="11" fill="#000"/>
<rect x="1137" y="268" width="9" height="9" fill="#00ff00"/>
<rect x="1157" y="271" width="1" height="106" fill="#000"/>
<rect x="1152" y="277" width="11" height="72" fill="#000"/>
<rect x="1153" y="278" width="9" height="70" fill="#00ff00"/>
<rect x="1173" y="331" width="1" height="29" fill="#000"/>
<rect x="1168" y="348" width="11" height="11" fill="#000"/>
<rect x="1169" y="349" width="9" height="9" fill="#00ff00"/>
<rect x="1189" y="350" width="1" height="14" fill="#000"/>
<rect x="1184" y="358" width="11" height="2" fill="#000"/>
<rect x="1205" y="328" width="1" height="64" fill="#000"/>
<rect x="1200" y="359" width="11" height="28" fill="#000"/>
<rect x="1201" y="360" width="9" height="26" fill="#00ff00"/>
<rect x="1221" y="369" width="1" height="77" fill="#000"/>
<rect x="1216" y="386" width="11" height="34" fill="#000"/>
<rect x="1217" y="387" width="9" height="32" fill="#00ff00"/>
<rect x="1237" y="396" width="1" height="34" fill="#000"/>
<rect x="1232" y="405" width="11" height="15" fill="#000"/>
<rect x="1233" y="406" width="9" height="13" fill="#ff0000"/>
<rect x="1253" y="396" width="1" height="73" fill="#000"/>
<rect x="1248" y="405" width="11" height="58" fill="#000"/>
<rect x="1249" y="406" width="9" height="56" fill="#00ff00"/>
<rect x="1269" y="445" width="1" height="39" fill="#000"/>
<rect x="1264" y="462" width="11" height="8" fill="#000"/>
<rect x="1265" y="463" width="9" height="6" fill="#00ff00"/>
<rect x="1285" y="460" width="1" height="16" fill="#000"/>
<rect x="1280" y="470" width="11" height="3" fill="#000"/>
<rect x="1281" y="471" width="9" height="1" fill="#00ff00"/>
</g>
<g shape-rendering="crispEdges" clip-path="url(#cm)">
<rect x="5" y="383" width="1637" height="2" fill="#ff0000"/>
<rect x="5" y="421" width="1637" height="2" fill="#ff0000"/>
<rect x="5" y="458" width="1637" height="2" fill="#ffa500"/>
<rect x="5" y="505" width="1637" height="2" fill="#0000ff"/>
<rect x="5" y="534" width="1637" height="2" fill="#0000ff"/>
<rect x="5" y="473" width="1636" height="1" fill="#000"/>
</g>
<g shape-rendering="crispEdges">
<rect x="4" y="381" width="6" height="6" fill="#ff0000"/>
<rect x="6" y="383" width="2" height="2" fill="#fff"/>
<rect x="1635" y="381" width="6" height="6" fill="#ff0000"/>
<rect x="1637" y="383" width="2" height="2" fill="#fff"/>
<rect x="4" y="419" width="6" height="6" fill="#ff0000"/>
<rect x="6" y="421" width="2" height="2" fill="#fff"/>
<rect x="1635" y="419" width="6" height="6" fill="#ff0000"/>
<rect x="1637" y="421" width="2" height="2" fill="#fff"/>
<rect x="4" y="456" width="6" height="6" fill="#ffa500"/>
<rect x="6" y="458" width="2" height="2" fill="#fff"/>
<rect x="1635" y="456" width="6" height="6" fill="#ffa500"/>
<rect x="1637" y="458" width="2" height="2" fill="#fff"/>
<rect x="4" y="503" width="6" height="6" fill="#0000ff"/>
<rect x="6" y="505" width="2" height="2" fill="#fff"/>
<rect x="1635" y="503" width="6" height="6" fill="#0000ff"/>
<rect x="1637" y="505" width="2" height="2" fill="#fff"/>
<rect x="4" y="532" width="6" height="6" fill="#0000ff"/>
<rect x="6" y="534" width="2" height="2" fill="#fff"/>
<rect x="1635" y="532" width="6" height="6" fill="#0000ff"/>
<rect x="1637" y="534" width="2" height="2" fill="#fff"/>
</g>
<g shape-rendering="crispEdges">
<rect x="1643" y="378" width="41" height="11" fill="#ff0000"/>
<rect x="1643" y="416" width="41" height="11" fill="#ff0000"/>
<rect x="1643" y="453" width="41" height="11" fill="#ffa500"/>
<rect x="1643" y="468" width="41" height="11" fill="#000000"/>
<rect x="1643" y="500" width="41" height="11" fill="#0000ff"/>
<rect x="1643" y="529" width="41" height="11" fill="#0000ff"/>
</g>
<text x="1647" y="387" font-size="9.8" fill="#fff" text-anchor="start" textLength="33" lengthAdjust="spacingAndGlyphs">7.08474</text>
<text x="1647" y="425" font-size="9.8" fill="#fff" text-anchor="start" textLength="33" lengthAdjust="spacingAndGlyphs">7.06376</text>
<text x="1647" y="462" font-size="9.8" fill="#fff" text-anchor="start" textLength="33" lengthAdjust="spacingAndGlyphs">7.04333</text>
<text x="1647" y="477" font-size="9.8" fill="#fff" text-anchor="start" textLength="33" lengthAdjust="spacingAndGlyphs">7.03553</text>
<text x="1647" y="509" font-size="9.8" fill="#fff" text-anchor="start" textLength="33" lengthAdjust="spacingAndGlyphs">7.01738</text>
<text x="1647" y="538" font-size="9.8" fill="#fff" text-anchor="start" textLength="33" lengthAdjust="spacingAndGlyphs">7.00136</text>
<line x1="1230" y1="353" x2="1371" y2="476" stroke="#4e9a2f" stroke-width="3.2" stroke-linecap="butt"/>
<polygon points="1383,487 1364,482.6 1375.7,469.2" fill="#4e9a2f"/>
<polygon points="1307.5,27 1318,27 1312.8,33.5" fill="#000"/>
<polygon points="8,34 15,34 11.5,38" fill="#000"/>
<text x="21" y="39" font-size="9.8" fill="#000" text-anchor="start" textLength="205" lengthAdjust="spacingAndGlyphs">USDCNH-,H4&#160;&#160;7.03737 7.04262 7.03462 7.03553</text>
<g shape-rendering="crispEdges" clip-path="url(#cd)" fill="#00ff00">
<rect x="4" y="666" width="3" height="14"/>
<rect x="20" y="666" width="3" height="14"/>
<rect x="36" y="662" width="3" height="18"/>
<rect x="52" y="659" width="3" height="21"/>
<rect x="68" y="656" width="3" height="24"/>
<rect x="84" y="654" width="3" height="26"/>
<rect x="100" y="652" width="3" height="28"/>
<rect x="116" y="649" width="3" height="31"/>
<rect x="132" y="649" width="3" height="31"/>
<rect x="148" y="650" width="3" height="30"/>
<rect x="164" y="652" width="3" height="28"/>
<rect x="180" y="653" width="3" height="27"/>
<rect x="196" y="653" width="3" height="27"/>
<rect x="212" y="654" width="3" height="26"/>
<rect x="228" y="656" width="3" height="24"/>
<rect x="244" y="659" width="3" height="21"/>
<rect x="260" y="661" width="3" height="19"/>
<rect x="276" y="662" width="3" height="18"/>
<rect x="292" y="663" width="3" height="17"/>
<rect x="308" y="663" width="3" height="17"/>
<rect x="324" y="662" width="3" height="18"/>
<rect x="340" y="662" width="3" height="18"/>
<rect x="356" y="662" width="3" height="18"/>
<rect x="372" y="659" width="3" height="21"/>
<rect x="388" y="656" width="3" height="24"/>
<rect x="404" y="654" width="3" height="26"/>
<rect x="420" y="653" width="3" height="27"/>
<rect x="436" y="651" width="3" height="29"/>
<rect x="452" y="649" width="3" height="31"/>
<rect x="468" y="645" width="3" height="35"/>
<rect x="484" y="642" width="3" height="38"/>
<rect x="500" y="644" width="3" height="36"/>
<rect x="516" y="644" width="3" height="36"/>
<rect x="532" y="645" width="3" height="35"/>
<rect x="548" y="646" width="3" height="34"/>
<rect x="564" y="644" width="3" height="36"/>
<rect x="580" y="642" width="3" height="38"/>
<rect x="596" y="638" width="3" height="42"/>
<rect x="612" y="636" width="3" height="44"/>
<rect x="628" y="634" width="3" height="46"/>
<rect x="644" y="629" width="3" height="51"/>
<rect x="660" y="627" width="3" height="53"/>
<rect x="676" y="626" width="3" height="54"/>
<rect x="692" y="625" width="3" height="55"/>
<rect x="708" y="624" width="3" height="56"/>
<rect x="724" y="625" width="3" height="55"/>
<rect x="740" y="626" width="3" height="54"/>
<rect x="756" y="630" width="3" height="50"/>
<rect x="772" y="630" width="3" height="50"/>
<rect x="788" y="630" width="3" height="50"/>
<rect x="804" y="630" width="3" height="50"/>
<rect x="820" y="632" width="3" height="48"/>
<rect x="836" y="628" width="3" height="52"/>
<rect x="852" y="621" width="3" height="59"/>
<rect x="868" y="620" width="3" height="60"/>
<rect x="884" y="624" width="3" height="56"/>
<rect x="900" y="632" width="3" height="48"/>
<rect x="916" y="637" width="3" height="43"/>
<rect x="932" y="640" width="3" height="40"/>
<rect x="948" y="640" width="3" height="40"/>
<rect x="964" y="651" width="3" height="29"/>
<rect x="980" y="663" width="3" height="17"/>
<rect x="996" y="674" width="3" height="6"/>
<rect x="1012" y="680" width="3" height="3"/>
<rect x="1028" y="680" width="3" height="7"/>
<rect x="1044" y="680" width="3" height="12"/>
<rect x="1060" y="680" width="3" height="13"/>
<rect x="1076" y="680" width="3" height="12"/>
<rect x="1092" y="680" width="3" height="11"/>
<rect x="1108" y="680" width="3" height="9"/>
<rect x="1124" y="680" width="3" height="7"/>
<rect x="1140" y="680" width="3" height="5"/>
<rect x="1156" y="680" width="3" height="8"/>
<rect x="1172" y="680" width="3" height="13"/>
<rect x="1188" y="680" width="3" height="16"/>
<rect x="1204" y="680" width="3" height="19"/>
<rect x="1220" y="680" width="3" height="25"/>
<rect x="1236" y="680" width="3" height="27"/>
<rect x="1252" y="680" width="3" height="33"/>
<rect x="1268" y="680" width="3" height="38"/>
<rect x="1284" y="680" width="3" height="41"/>
</g>
<polyline clip-path="url(#cd)" points="5,670 21,669.5 37,667 53,666.3 69,664.2 85,663.3 101,661.5 117,659.2 133,657 149,655.3 165,654 181,653 197,652.1 213,652.1 229,652.1 245,653.2 261,654.4 277,655.6 293,657.6 309,658.3 325,659.4 341,660.6 357,660.8 373,660.8 389,660.8 405,660.3 421,659.4 437,658.3 453,656.2 469,654.4 485,652.6 501,650.9 517,649.1 533,647.3 549,646.4 565,645.2 581,643.7 597,643.2 613,642.3 629,641.4 645,640.2 661,638.4 677,636.6 693,633.1 709,631.3 725,629 741,628.1 757,627.2 773,626.9 789,626.9 805,627.2 821,627.8 837,627.8 853,627.8 869,626.9 885,626.9 901,627.4 917,628.3 933,629.5 949,630.8 965,632.2 981,636.3 997,642.3 1013,649.1 1029,656.5 1045,663.3 1061,669.5 1077,674.3 1093,680.7 1109,684.2 1125,687.6 1141,688.7 1157,688.7 1173,688.7 1189,689.4 1205,690.5 1221,692.2 1237,693.1 1253,695.8 1269,700 1285,704.1" fill="none" stroke="#ff0000" stroke-width="2" shape-rendering="crispEdges"/>
<text x="9" y="626" font-size="9.8" fill="#000" text-anchor="start" textLength="153" lengthAdjust="spacingAndGlyphs">MACD(12,26,9) -0.025423 -0.014704</text>
<rect x="1642" y="615" width="1" height="1" fill="#000" shape-rendering="crispEdges"/>
<text x="1645" y="624" font-size="9.8" fill="#000" text-anchor="start" textLength="38" lengthAdjust="spacingAndGlyphs">0.041942</text>
<text x="1645" y="684" font-size="9.8" fill="#000" text-anchor="start" textLength="19" lengthAdjust="spacingAndGlyphs">0.00</text>
<rect x="1642" y="680" width="2" height="1" fill="#000" shape-rendering="crispEdges"/>
<text x="1645" y="723" font-size="9.8" fill="#000" text-anchor="start" textLength="41" lengthAdjust="spacingAndGlyphs">-0.028631</text>
<g shape-rendering="crispEdges" stroke="#000" stroke-width="1" stroke-dasharray="3,3" clip-path="url(#cr)">
<line x1="5" y1="749.5" x2="1641" y2="749.5"/>
<line x1="5" y1="779.5" x2="1641" y2="779.5"/>
<line x1="5" y1="814.5" x2="1641" y2="814.5"/>
</g>
<polyline clip-path="url(#cr)" points="5,768.9 21,768.9 37,757.9 53,757.9 69,756.6 85,756.1 101,754.8 117,752.9 133,757 149,764.6 165,768.9 181,766.4 197,763.7 213,765.5 229,771.2 245,773.8 261,773.8 277,771.2 293,769.2 309,767.6 325,764.4 341,763.7 357,763.7 373,756.1 389,753.8 405,757.5 421,757.5 437,752.9 453,752.5 469,748.1 485,747.7 501,767.1 517,762.8 533,763.5 549,763.7 565,757 581,756.3 597,752 613,751.6 629,751.6 645,747.7 661,754.8 677,753.4 693,752.5 709,752.5 725,752.9 741,753.8 757,763.7 773,757.9 789,757 805,758.7 821,758.7 837,750.2 853,748.6 869,755.2 885,767.6 901,777.8 917,773.8 933,770.8 949,768.9 965,785.9 981,789 997,789.8 1013,789.8 1029,786.8 1045,787.5 1061,782.2 1077,781.5 1093,778.6 1109,777.8 1125,777.8 1141,777.8 1157,786.8 1173,786.8 1189,787.2 1205,789.8 1221,793.9 1237,792 1253,796.6 1269,797 1285,797" fill="none" stroke="#1e90ff" stroke-width="2" shape-rendering="crispEdges"/>
<text x="9" y="741" font-size="9.8" fill="#000" text-anchor="start" textLength="67" lengthAdjust="spacingAndGlyphs">RSI(14) 31.3859</text>
<text x="1645" y="738.5" font-size="9.8" fill="#000" text-anchor="start" textLength="15" lengthAdjust="spacingAndGlyphs">100</text>
<text x="1645" y="752.5" font-size="9.8" fill="#000" text-anchor="start" textLength="10" lengthAdjust="spacingAndGlyphs">80</text>
<text x="1645" y="782.5" font-size="9.8" fill="#000" text-anchor="start" textLength="10" lengthAdjust="spacingAndGlyphs">50</text>
<text x="1645" y="817.5" font-size="9.8" fill="#000" text-anchor="start" textLength="10" lengthAdjust="spacingAndGlyphs">15</text>
<text x="1645" y="825.5" font-size="9.8" fill="#000" text-anchor="start" textLength="5" lengthAdjust="spacingAndGlyphs">0</text>
<g shape-rendering="crispEdges" fill="#000">
<rect x="5" y="830" width="1" height="3"/>
<rect x="69" y="830" width="1" height="3"/>
<rect x="133" y="830" width="1" height="3"/>
<rect x="197" y="830" width="1" height="3"/>
<rect x="261" y="830" width="1" height="3"/>
<rect x="325" y="830" width="1" height="3"/>
<rect x="389" y="830" width="1" height="3"/>
<rect x="453" y="830" width="1" height="3"/>
<rect x="517" y="830" width="1" height="3"/>
<rect x="581" y="830" width="1" height="3"/>
<rect x="645" y="830" width="1" height="3"/>
<rect x="709" y="830" width="1" height="3"/>
<rect x="773" y="830" width="1" height="3"/>
<rect x="837" y="830" width="1" height="3"/>
<rect x="901" y="830" width="1" height="3"/>
<rect x="965" y="830" width="1" height="3"/>
<rect x="1029" y="830" width="1" height="3"/>
<rect x="1093" y="830" width="1" height="3"/>
<rect x="1157" y="830" width="1" height="3"/>
<rect x="1221" y="830" width="1" height="3"/>
<rect x="1285" y="830" width="1" height="3"/>
</g>
<text x="4.5" y="842" font-size="9.8" fill="#000" text-anchor="start" textLength="51.5" lengthAdjust="spacingAndGlyphs">15 Sep 2022</text>
<text x="68.5" y="842" font-size="9.8" fill="#000" text-anchor="start" textLength="54.3" lengthAdjust="spacingAndGlyphs">15 Sep 16:00</text>
<text x="132.5" y="842" font-size="9.8" fill="#000" text-anchor="start" textLength="54.3" lengthAdjust="spacingAndGlyphs">16 Sep 08:00</text>
<text x="196.5" y="842" font-size="9.8" fill="#000" text-anchor="start" textLength="54.3" lengthAdjust="spacingAndGlyphs">19 Sep 04:00</text>
<text x="260.5" y="842" font-size="9.8" fill="#000" text-anchor="start" textLength="54.3" lengthAdjust="spacingAndGlyphs">19 Sep 20:00</text>
<text x="324.5" y="842" font-size="9.8" fill="#000" text-anchor="start" textLength="54.3" lengthAdjust="spacingAndGlyphs">20 Sep 12:00</text>
<text x="388.5" y="842" font-size="9.8" fill="#000" text-anchor="start" textLength="54.3" lengthAdjust="spacingAndGlyphs">21 Sep 04:00</text>
<text x="452.5" y="842" font-size="9.8" fill="#000" text-anchor="start" textLength="54.3" lengthAdjust="spacingAndGlyphs">21 Sep 20:00</text>
<text x="516.5" y="842" font-size="9.8" fill="#000" text-anchor="start" textLength="54.3" lengthAdjust="spacingAndGlyphs">22 Sep 12:00</text>
<text x="580.5" y="842" font-size="9.8" fill="#000" text-anchor="start" textLength="54.3" lengthAdjust="spacingAndGlyphs">23 Sep 04:00</text>
<text x="644.5" y="842" font-size="9.8" fill="#000" text-anchor="start" textLength="54.3" lengthAdjust="spacingAndGlyphs">26 Sep 00:00</text>
<text x="708.5" y="842" font-size="9.8" fill="#000" text-anchor="start" textLength="54.3" lengthAdjust="spacingAndGlyphs">26 Sep 16:00</text>
<text x="772.5" y="842" font-size="9.8" fill="#000" text-anchor="start" textLength="54.3" lengthAdjust="spacingAndGlyphs">27 Sep 08:00</text>
<text x="836.5" y="842" font-size="9.8" fill="#000" text-anchor="start" textLength="54.3" lengthAdjust="spacingAndGlyphs">28 Sep 00:00</text>
<text x="900.5" y="842" font-size="9.8" fill="#000" text-anchor="start" textLength="54.3" lengthAdjust="spacingAndGlyphs">28 Sep 16:00</text>
<text x="964.5" y="842" font-size="9.8" fill="#000" text-anchor="start" textLength="54.3" lengthAdjust="spacingAndGlyphs">29 Sep 08:00</text>
<text x="1028.5" y="842" font-size="9.8" fill="#000" text-anchor="start" textLength="54.3" lengthAdjust="spacingAndGlyphs">30 Sep 00:00</text>
<text x="1092.5" y="842" font-size="9.8" fill="#000" text-anchor="start" textLength="54.3" lengthAdjust="spacingAndGlyphs">30 Sep 16:00</text>
<text x="1156.5" y="842" font-size="9.8" fill="#000" text-anchor="start" textLength="48.7" lengthAdjust="spacingAndGlyphs">3 Oct 12:00</text>
<text x="1220.5" y="842" font-size="9.8" fill="#000" text-anchor="start" textLength="48.7" lengthAdjust="spacingAndGlyphs">4 Oct 04:00</text>
<text x="1284.5" y="842" font-size="9.8" fill="#000" text-anchor="start" textLength="48.7" lengthAdjust="spacingAndGlyphs">4 Oct 20:00</text>
</svg></body></html>
